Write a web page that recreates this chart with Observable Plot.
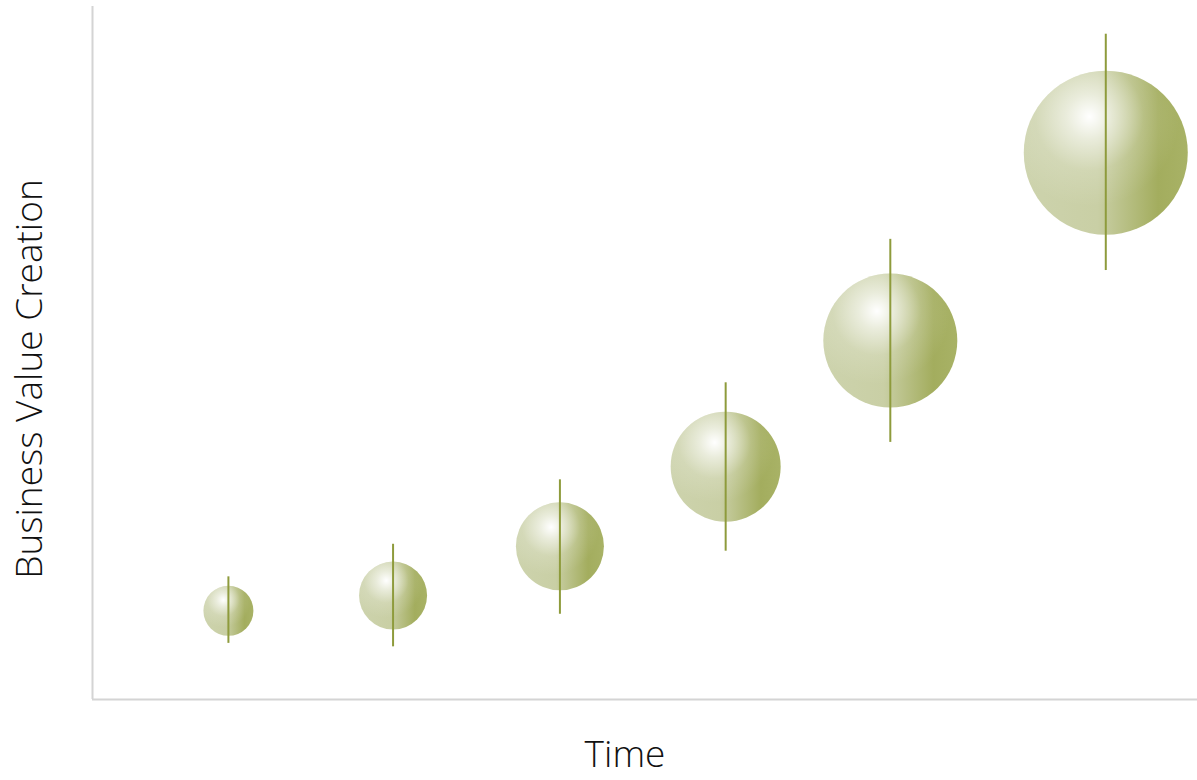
<!DOCTYPE html>
<html>
<head>
<meta charset="utf-8">
<script src="https://cdn.jsdelivr.net/npm/d3@7"></script>
<script src="https://cdn.jsdelivr.net/npm/@observablehq/plot@0.6"></script>
<style>
  html, body { margin: 0; padding: 0; background: #fff; }
  #chart svg { display: block; }
</style>
</head>
<body>
<div id="chart"></div>
<script>
// Data (arbitrary units)
const time   = [12.3, 27.2, 42.3, 57.3, 72.2, 91.7];
const value  = [12.8, 15.0, 22.1, 33.6, 51.8, 78.9];
const low    = [8.1, 7.6, 12.3, 21.4, 37.1, 61.9];
const high   = [17.7, 22.4, 31.7, 45.7, 66.4, 96.0];
const size   = [25, 34, 44, 55, 67, 82];
const xLabel = "Time";
const yLabel = "Business Value Creation";

const data = time.map((t, i) => ({t, v: value[i], lo: low[i], hi: high[i], s: size[i]}));

const font = "'Open Sans', 'Segoe UI', sans-serif";

const plot = Plot.plot({
  width: 1197,
  height: 780,
  marginLeft: 92,
  marginRight: 0,
  marginTop: 6,
  marginBottom: 81,
  style: {fontFamily: font, background: "#fff"},
  x: {domain: [0, 100], axis: null},
  y: {domain: [0, 100], axis: null},
  r: {type: "linear", domain: [0, 100], range: [0, 100]},
  marks: [
    Plot.ruleX([0], {stroke: "#d4d4d4", strokeWidth: 2}),
    Plot.ruleY([0], {stroke: "#d4d4d4", strokeWidth: 2}),
    Plot.dot(data, {x: "t", y: "v", r: "s", fill: "url(#bubbleBase)", stroke: "none"}),
    Plot.dot(data, {x: "t", y: "v", r: "s", fill: "url(#bubbleShine)", stroke: "none"}),
    Plot.ruleX(data, {x: "t", y1: "lo", y2: "hi", stroke: "#8e9b3c", strokeWidth: 2}),
    Plot.text([xLabel], {frameAnchor: "bottom", textAnchor: "middle", dx: -20, dy: 67, fontSize: 37, fontWeight: 300, fill: "#111", fontFamily: font}),
    Plot.text([yLabel], {frameAnchor: "left", textAnchor: "middle", lineAnchor: "middle", rotate: -90, dx: -62, dy: 26, fontSize: 37, fontWeight: 300, fill: "#111", fontFamily: font})
  ]
});

const ns = "http://www.w3.org/2000/svg";
const defs = document.createElementNS(ns, "defs");
defs.innerHTML = `
  <linearGradient id="bubbleBase" x1="0" y1="0" x2="1" y2="0">
    <stop offset="0" stop-color="#cdd3ad"/>
    <stop offset="0.45" stop-color="#c9cfa5"/>
    <stop offset="0.82" stop-color="#a3ad5e"/>
    <stop offset="1" stop-color="#a8b266"/>
  </linearGradient>
  <radialGradient id="bubbleShine" cx="0.4" cy="0.28" r="0.55" fx="0.4" fy="0.28">
    <stop offset="0" stop-color="#ffffff" stop-opacity="1"/>
    <stop offset="0.25" stop-color="#ffffff" stop-opacity="0.6"/>
    <stop offset="0.6" stop-color="#ffffff" stop-opacity="0.15"/>
    <stop offset="1" stop-color="#ffffff" stop-opacity="0"/>
  </radialGradient>`;
plot.insertBefore(defs, plot.firstChild);
document.getElementById("chart").appendChild(plot);
</script>
</body>
</html>
